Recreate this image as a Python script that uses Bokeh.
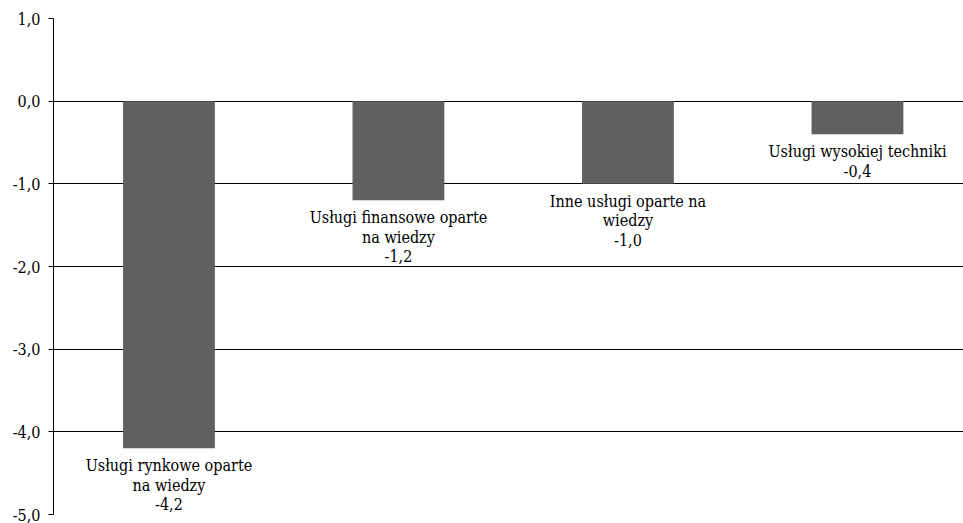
from bokeh.plotting import figure
from bokeh.models import ColumnDataSource, Range1d, FixedTicker
from bokeh.core.properties import value
from bokeh.embed import file_html
from bokeh.resources import INLINE

categories = ["Usługi rynkowe oparte\nna wiedzy",
              "Usługi finansowe oparte\nna wiedzy",
              "Inne usługi oparte na\nwiedzy",
              "Usługi wysokiej techniki"]
values = [-4.2, -1.2, -1.0, -0.4]
value_labels = ["-4,2", "-1,2", "-1,0", "-0,4"]
y_ticks = [1.0, 0.0, -1.0, -2.0, -3.0, -4.0, -5.0]
y_tick_labels = ["1,0", "0,0", "-1,0", "-2,0", "-3,0", "-4,0", "-5,0"]

FONT = "DejaVu Serif Condensed"

xs = list(range(len(categories)))
labels = [c + "\n" + v for c, v in zip(categories, value_labels)]
src = ColumnDataSource(dict(x=xs, top=[0] * len(values), bottom=values, label=labels))

p = figure(width=963, height=523, output_backend="svg", toolbar_location=None,
           x_range=Range1d(-0.503, 3.462), y_range=Range1d(-5.0, 1.0),
           min_border_left=53, min_border_right=0, min_border_top=18, min_border_bottom=9)
p.outline_line_color = None
p.background_fill_color = "white"
p.border_fill_color = "white"

p.vbar(x="x", top="top", bottom="bottom", width=0.4, source=src,
       fill_color="#606060", line_color=None)

p.text(x="x", y="bottom", text="label", source=src, text_align="center",
       text_baseline="top", y_offset=8, text_font=value(FONT),
       text_font_size="16px", text_color="#000000", text_line_height=1.02)

p.xaxis.visible = False
p.xgrid.visible = False
p.ygrid.ticker = FixedTicker(ticks=y_ticks)
p.ygrid.grid_line_color = "black"
p.ygrid.grid_line_width = 1
p.ygrid.grid_line_alpha = 1.0

ax = p.yaxis[0]
ax.ticker = FixedTicker(ticks=y_ticks)
ax.major_label_overrides = {t: l for t, l in zip(y_ticks, y_tick_labels)}
ax.major_label_text_font = FONT
ax.major_label_text_font_size = "16px"
ax.major_label_text_font_style = "normal"
ax.major_label_text_color = "black"
ax.axis_line_color = "black"
ax.axis_line_width = 1
ax.major_tick_line_color = "black"
ax.major_tick_out = 5
ax.major_tick_in = 0
ax.minor_tick_line_color = None
ax.major_label_standoff = 8

open("out.html", "w").write(file_html(p, INLINE))
